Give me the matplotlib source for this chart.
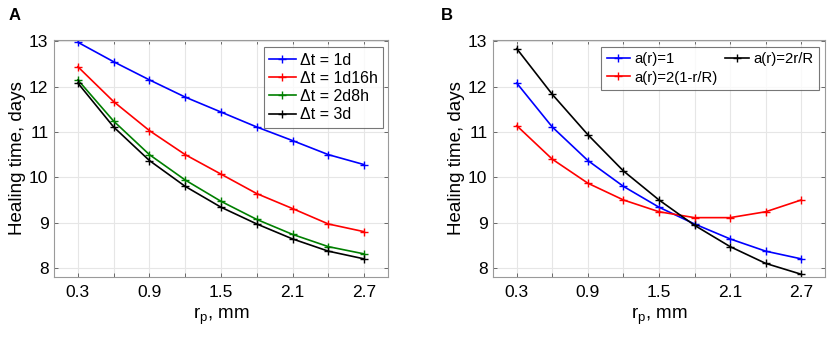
import matplotlib
matplotlib.use("Agg")
import matplotlib.pyplot as plt

plt.rcParams['font.family'] = ['Liberation Sans', 'DejaVu Sans']
plt.rcParams['mathtext.fontset'] = 'custom'
plt.rcParams['mathtext.rm'] = 'Liberation Sans'

rp = [0.3, 0.6, 0.9, 1.2, 1.5, 1.8, 2.1, 2.4, 2.7]
xtick_labels = ['0.3', '', '0.9', '', '1.5', '', '2.1', '', '2.7']

# Panel A
a_1d = [12.98, 12.55, 12.15, 11.77, 11.44, 11.11, 10.81, 10.50, 10.28]
a_1d16h = [12.44, 11.67, 11.03, 10.50, 10.07, 9.64, 9.31, 8.97, 8.80]
a_2d8h = [12.15, 11.24, 10.50, 9.94, 9.47, 9.07, 8.74, 8.47, 8.31]
a_3d = [12.08, 11.11, 10.37, 9.80, 9.34, 8.97, 8.64, 8.37, 8.20]
labels_a = ['Δt = 1d', 'Δt = 1d16h', 'Δt = 2d8h', 'Δt = 3d']

# Panel B
b_const = [12.08, 11.11, 10.37, 9.80, 9.34, 8.97, 8.64, 8.37, 8.20]
b_lin_dec = [11.14, 10.40, 9.87, 9.50, 9.24, 9.11, 9.11, 9.24, 9.50]
b_lin_inc = [12.84, 11.83, 10.94, 10.14, 9.50, 8.94, 8.47, 8.10, 7.86]
labels_b = ['a(r)=1', 'a(r)=2(1-r/R)', 'a(r)=2r/R']

fig = plt.figure(figsize=(8.29, 3.4), dpi=100)
W, H = 829, 340
axA = fig.add_axes([54 / W, 1 - 277 / H, (388 - 54) / W, (277 - 40) / H])
axB = fig.add_axes([493 / W, 1 - 277 / H, (825 - 493) / W, (277 - 40) / H])


def style(ax):
    ax.set_xlim(0.1, 2.9)
    ax.set_ylim(7.8, 13.03)
    ax.set_xticks(rp)
    ax.set_xticklabels(xtick_labels)
    ax.set_yticks([8, 9, 10, 11, 12, 13])
    ax.grid(True, color='#e6e6e6', linewidth=0.8)
    ax.set_axisbelow(True)
    for s in ax.spines.values():
        s.set_color('#9a9a9a')
        s.set_linewidth(0.8)
    ax.tick_params(direction='in', top=True, right=True, length=3,
                   color='#555555', labelsize=12.5, width=0.6)
    ax.tick_params(axis='x', pad=6)
    ax.tick_params(axis='y', pad=4)
    ax.set_xlabel('r$_\\mathregular{p}$, mm', fontsize=13.5, labelpad=4)
    ax.set_ylabel('Healing time, days', fontsize=13.5, labelpad=2)


lw = 1.2
ms = 5.5
for y, c, l in zip([a_1d, a_1d16h, a_2d8h, a_3d],
                   ['#0000ff', '#ff0000', '#007f00', '#000000'], labels_a):
    axA.plot(rp, y, color=c, marker='+', markersize=ms, lw=lw, label=l)
style(axA)
legA = axA.legend(loc='upper right', bbox_to_anchor=(383 / W, 1 - 47 / H),
                  bbox_transform=fig.transFigure, borderaxespad=0,
                  fontsize=11.5, frameon=True, fancybox=False,
                  edgecolor='#555555', handlelength=1.65, handletextpad=0.25,
                  borderpad=0.35, labelspacing=0.2)
legA.get_frame().set_linewidth(0.8)

for y, c, l in zip([b_const, b_lin_dec, b_lin_inc],
                   ['#0000ff', '#ff0000', '#000000'], labels_b):
    axB.plot(rp, y, color=c, marker='+', markersize=ms, lw=lw, label=l)
style(axB)
legB = axB.legend(loc='upper right', bbox_to_anchor=(819 / W, 1 - 47 / H),
                  bbox_transform=fig.transFigure, borderaxespad=0,
                  ncol=2, fontsize=10.7, frameon=True, fancybox=False,
                  edgecolor='#555555', handlelength=1.6, handletextpad=0.3,
                  borderpad=0.35, labelspacing=0.3, columnspacing=0.5)
legB.get_frame().set_linewidth(0.8)

fig.text(9 / W, 1 - 15 / H, 'A', fontsize=12, fontweight='bold', va='center', ha='left')
fig.text(441 / W, 1 - 15 / H, 'B', fontsize=12, fontweight='bold', va='center', ha='left')

fig.savefig('out.png', dpi=100)
